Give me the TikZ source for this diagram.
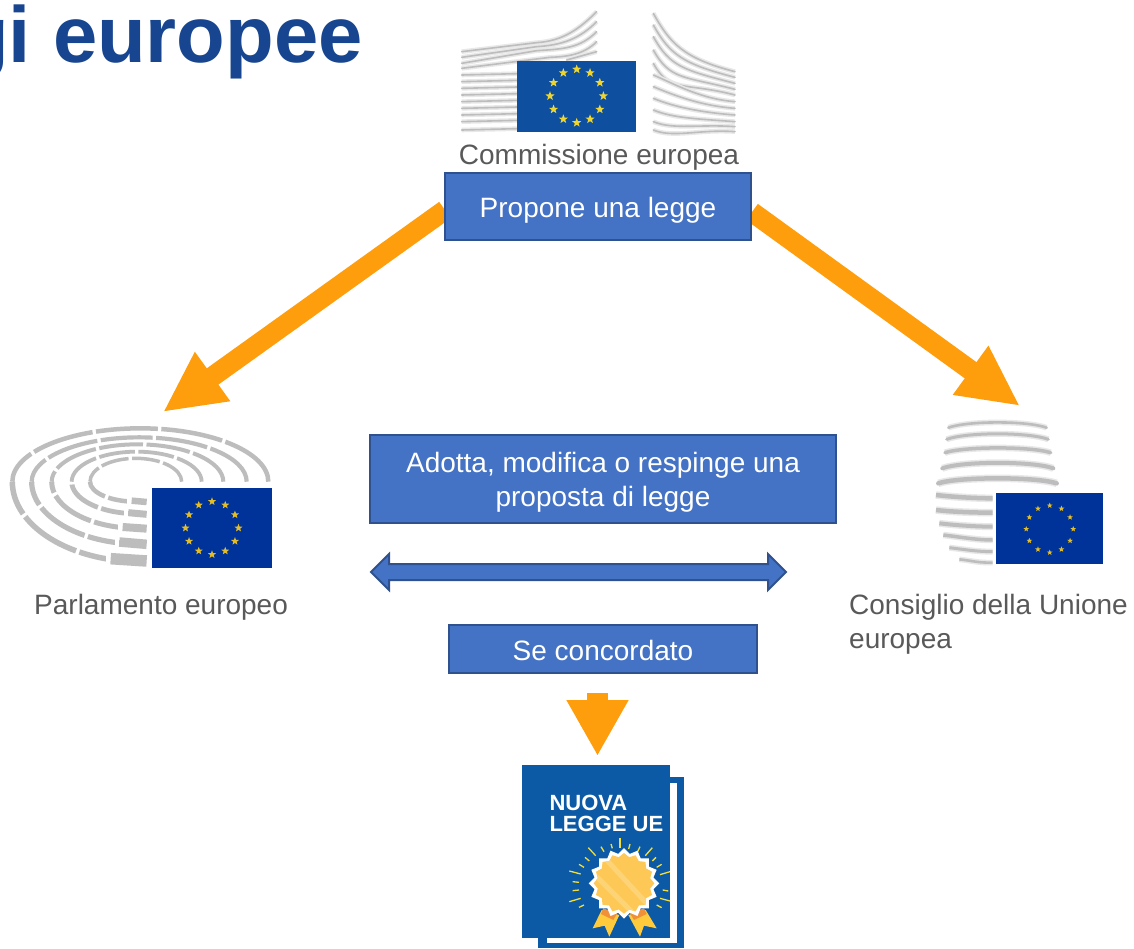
\documentclass[tikz,border=0pt]{standalone}
\usepackage{fontspec}
\setmainfont{Liberation Sans}
\usetikzlibrary{arrows.meta,calc}
\definecolor{boxfill}{HTML}{4472C4}
\definecolor{boxedge}{HTML}{2F528F}
\definecolor{orangearrow}{HTML}{FF9E0D}
\definecolor{titleblue}{HTML}{17458F}
\definecolor{labelgray}{HTML}{595959}
\definecolor{wing}{HTML}{BDBDBD}
\definecolor{flagA}{HTML}{0E4F9F}
\definecolor{flagB}{HTML}{003399}
\definecolor{docblue}{HTML}{0C5AA6}
\definecolor{seal}{HTML}{FDC855}
\definecolor{ribbon}{HTML}{FFCB3D}
\definecolor{ribbonb}{HTML}{F0913A}
\definecolor{ray}{HTML}{F2DE3A}
\definecolor{starA}{HTML}{EFD52F}
\definecolor{starB}{HTML}{E3BC2A}
\tikzset{
  bluebox/.style={draw=boxedge,fill=boxfill,line width=2pt,inner sep=0pt},
  boxtext/.style={text=white,align=center,inner sep=0pt,font=\fontsize{28}{34}\selectfont},
  graylabel/.style={text=labelgray,inner sep=0pt,font=\fontsize{28}{34}\selectfont},
  bigarrow/.style={draw=orangearrow,line width=20pt,-{Triangle[length=61pt,width=56pt,fill=orangearrow,color=orangearrow]}},
  downarrow/.style={draw=orangearrow,line width=21pt,-{Triangle[length=56pt,width=58pt,fill=orangearrow,color=orangearrow]}},
  wingline/.style={draw=wing,line width=1.6pt,line cap=round,preaction={draw=wing!35,line width=\pgflinewidth+1.5pt}},
  hemi/.style={draw=wing,line cap=butt},
  rayline/.style={draw=ray,line width=1.3pt}
}
\newcommand{\starring}[5]{% cx cy R r colour
  \foreach \a in {0,30,...,330}{%
    \begin{scope}[shift={({#1+#3*cos(\a)},{#2-#3*sin(\a)})}]
      \fill[#5] (-90:#4) -- (-54:.42*#4) -- (-18:#4) -- (18:.42*#4) -- (54:#4) -- (90:.42*#4)
        -- (126:#4) -- (162:.42*#4) -- (198:#4) -- (234:.42*#4) -- cycle;
    \end{scope}}%
}
\begin{document}
\begin{tikzpicture}[x=1pt,y=-1pt]
\useasboundingbox (0,0) rectangle (1134,948);
\fill[white] (0,0) rectangle (1134,948);

% title
\begin{scope}
\clip (0,0) rectangle (1134,948);
\node[anchor=base east,inner sep=0pt,text=titleblue,font=\fontsize{79.6}{90}\selectfont\bfseries] (title) at (363,62) {gi europee};
\end{scope}

% Commission building
\begin{scope}[x=.33333pt,y=-.33333pt,shift={(1320,0)}]
  \foreach \y/\yb/\ye in {155/128/35,172/140/65,190/152/95}{
    \draw[wingline] (65,\y) -- (290,\yb) .. controls (370,\yb-5) and (420,\ye+50) .. (470,\ye);}
  \draw[wingline] (65,205) -- (330,172) .. controls (380,170) and (430,165) .. (470,125);
  \draw[wingline] (380,180) -- (470,155);
  \foreach \y in {225,245,265,285,305,325,345,365,390}{
    \draw[wingline] (65,\y) -- (232,\y-4);}
  \foreach \a/\e in {40/215,75/232,110/250,150/268,190/285}{
    \draw[wingline] (640,\a) .. controls (690,\a+90) and (730,\e-40) .. (885,\e);}
  \foreach \a/\e in {225/305,260/325,295/345,330/365,365/380,390/395}{
    \draw[wingline] (640,\a) .. controls (700,\a+25) and (780,\e-8) .. (885,\e);}
\end{scope}
\fill[flagA] (517,61) rectangle (636,132);
\starring{576.7}{96}{26.7}{4.8}{starA}

% Parliament hemicycle
\begin{scope}[x=.33333pt,y=-.33333pt,shift={(0,1230)}]
  \foreach \L/\R/\T/\B/\wt/\wb/\dsh in {37/805/55/455/4.5/5.5/62,95/740/82/402/4.2/5.2/52,155/670/103/355/4/5/44,215/605/125/311/3.8/4.8/36,270/545/145/275/3.5/4.5/28}{
    \pgfmathsetmacro{\C}{(\L+\R)/2}
    \pgfmathsetmacro{\rx}{(\R-\L)/2}
    \pgfmathsetmacro{\kx}{.5523*\rx}
    \pgfmathsetmacro{\kt}{.5523*(215-\T)}
    \pgfmathsetmacro{\kb}{.5523*(\B-215)}
    \draw[hemi,line width=\wt pt,dash pattern=on \dsh pt off 3.5pt]
      (\R,215) .. controls (\R,215-\kt) and (\C+\kx,\T) .. (\C,\T)
      .. controls (\C-\kx,\T) and (\L,215-\kt) .. (\L,215);
    \draw[hemi,line width=\wb pt,dash pattern=on \dsh pt off 3.5pt]
      (\C,\B) .. controls (\C-\kx,\B) and (\L,215+\kb) .. (\L,215);
  }
  \foreach \xa/\ya/\yb/\w in {332/446/453/11.5,358/396/403/9.5,368/351/356/8,385/308/313/7,395/272/276/6.5}{
    \fill[white] (\xa-14,\ya-\w*2) rectangle (\xa,\yb+\w*2);
    \draw[hemi,line width=\w pt] (\xa,\ya) -- (440,\yb);}
\end{scope}
\fill[flagB] (152,488) rectangle (272,568);
\starring{212}{528}{26.5}{4.2}{starB}

% Council building
\begin{scope}[x=.33333pt,y=-.33333pt,shift={(2760,1200)}]
  \foreach \xa/\ya/\xm/\ym/\xb/\w in {85/83/225/62/380/2.6,80/118/225/96/385/3,75/158/235/139/392/3.5,67/205/230/183/400/4,55/250/230/230/410/4.5}{
    \draw[wingline,line width=\w pt] (\xa,\ya) .. controls (\xa+60,\ym) and (\xb-60,\ym) .. (\xb,\ya);}
  \foreach \xa/\ya/\yb/\w in {48/285/295/4.5,48/330/338/4.5,58/370/380/4,70/405/420/3.5,88/443/455/3,118/478/488/2.6}{
    \draw[wingline,line cap=butt,line width=\w pt] (\xa,\ya) .. controls (\xa+50,\ya+6) and (170,\yb) .. (218,\yb);}
\end{scope}
\fill[flagB] (996,493) rectangle (1103,564);
\starring{1049.7}{529}{23.5}{3}{starB}

% connector ends
\coordinate (propL) at (445,210);
\coordinate (propR) at (752,212);
\coordinate (parlTip) at (163,412);
\coordinate (consTip) at (1020,406);
\coordinate (downS) at (597.5,693);
\coordinate (downE) at (597.5,756);
\coordinate (dblL) at (371,572);
\coordinate (dblR) at (786,572);

% orange arrows
\draw[bigarrow] (propL) -- (parlTip);
\draw[bigarrow] (propR) -- (consTip);
\draw[downarrow] (downS) -- (downE);

% boxes and labels
\node[graylabel,anchor=base] (comm) at (599,164) {Commissione europea};
\node[bluebox,minimum width=306pt,minimum height=67pt] (prop) at (598,206.5) {};
\node[boxtext] (propT) at (598,210) {Propone una legge};
\node[bluebox,minimum width=466pt,minimum height=88pt] (adotta) at (603,479) {};
\node[boxtext] (adottaT) at (603,482) {Adotta, modifica o respinge una\\[0pt]proposta di legge};
\node[bluebox,minimum width=308pt,minimum height=48pt] (conc) at (603,649) {};
\node[boxtext] (concT) at (603,650) {Se concordato};
\node[graylabel,anchor=base west] (parl) at (34,614) {Parlamento europeo};
\node[graylabel,anchor=base west,align=left] (cons) at (849,648) {Consiglio della Unione\\[0pt]europea};

% double arrow
\draw[draw=boxedge,fill=boxfill,line width=2pt,line join=miter]
  (dblL) -- ++(18,-18) -- ++(0,10) -- ($(dblR)+(-18,-8)$) -- ++(0,-10) -- (dblR)
  -- ++(-18,18) -- ++(0,-10) -- ($(dblL)+(18,8)$) -- ++(0,10) -- cycle;

% new law document
\begin{scope}[x=.33333pt,y=-.33333pt,shift={(1500,2040)}]
  \fill[docblue] (115,290) rectangle (552,804);
  \fill[white] (140,310) rectangle (530,790);
  \fill[docblue] (67,256) rectangle (511,775);
  \node[anchor=base west,inner sep=0pt,text=white,font=\bfseries\fontsize{22}{24}\selectfont] (nuova) at (148,390) {NUOVA};
  \node[anchor=base west,inner sep=0pt,text=white,font=\bfseries\fontsize{22}{24}\selectfont] (legge) at (148,455) {LEGGE UE};
  \foreach \xa/\ya/\xb/\yb in {265/503/287/527,303/500/312/515,333/492/337/505,390/492/386/507,420/500/413/515,457/503/436/527,468/532/457/543,255/532/268/543,237/553/252/562,485/553/470/562,208/573/242/582,510/575/480/584,218/605/237/607,218/632/237/630,488/630/505/633,208/665/242/655,480/655/510/663,237/682/252/675,470/675/485/683}{
    \draw[rayline] (\xa,\ya) -- (\xb,\yb);}
  \draw[rayline,line width=2pt] (360,475) -- (360,505);
  % ribbons
  \fill[ribbon] (305,690) -- (278,745) -- (314,737) -- (328,770) -- (358,705) -- cycle;
  \fill[ribbon] (437,690) -- (470,745) -- (432,737) -- (420,770) -- (385,705) -- cycle;
  \fill[ribbonb] (310,685) -- (303,702) -- (340,720) -- (352,700) -- cycle;
  \fill[ribbonb] (432,685) -- (440,702) -- (402,720) -- (390,700) -- cycle;
  % seal
  \fill[white] plot[samples at={0,...,31}] ({372+(isodd(\x)?90:106)*cos(\x*11.25)},{610+(isodd(\x)?90:106)*sin(\x*11.25)}) -- cycle;
  \begin{scope}
    \clip plot[samples at={0,...,31}] ({372+(isodd(\x)?80:91)*cos(\x*11.25)},{610+(isodd(\x)?80:91)*sin(\x*11.25)}) -- cycle;
    \fill[seal] (272,510) rectangle (472,710);
    \draw[seal!80!white,line width=5pt] (320,540) -- (440,670);
    \draw[seal!80!white,line width=5pt] (290,590) -- (400,700);
  \end{scope}
\end{scope}
\end{tikzpicture}
\end{document}
